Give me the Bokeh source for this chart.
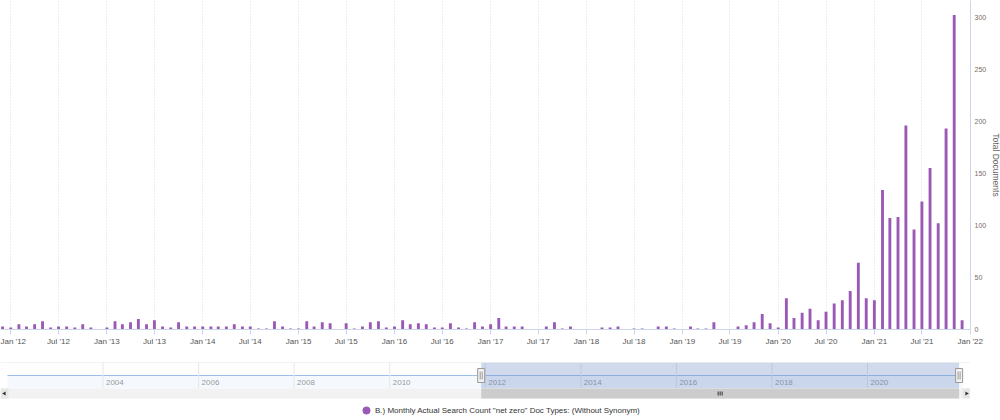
import math
import pandas as pd
from bokeh.plotting import figure
from bokeh.models import (Range1d, DatetimeTickFormatter, MonthsTicker, FixedTicker,
                          Legend, LegendItem)
from bokeh.layouts import column
from bokeh.embed import file_html
from bokeh.resources import INLINE
from bokeh.core.properties import value

# ---------------- data ----------------
start_month = "2011-12-01"
counts_2011 = [3]
counts_2012 = [2, 5, 3, 5, 8, 2, 3, 3, 2, 5, 2, 0]
counts_2013 = [2, 8, 5, 7, 10, 5, 9, 3, 2, 7, 3, 3]
counts_2014 = [3, 3, 3, 3, 5, 3, 3, 1, 1, 8, 3, 1]
counts_2015 = [1, 8, 3, 7, 6, 0, 6, 1, 3, 7, 8, 2]
counts_2016 = [3, 9, 5, 6, 5, 2, 2, 6, 2, 1, 7, 3]
counts_2017 = [5, 11, 3, 3, 3, 0, 0, 3, 7, 1, 3, 0]
counts_2018 = [0, 0, 2, 2, 3, 0, 1, 1, 0, 3, 3, 1]
counts_2019 = [0, 3, 1, 1, 7, 0, 0, 3, 4, 7, 15, 6]
counts_2020 = [2, 30, 11, 16, 20, 9, 17, 25, 28, 37, 64, 30]
counts_2021 = [28, 134, 107, 108, 196, 96, 123, 155, 102, 193, 302, 9]
counts = (counts_2011 + counts_2012 + counts_2013 + counts_2014 + counts_2015 +
          counts_2016 + counts_2017 + counts_2018 + counts_2019 + counts_2020 + counts_2021)
months = pd.date_range(start_month, periods=len(counts), freq="MS")

y_ticks = [0, 50, 100, 150, 200, 250, 300]
y_title = "Total Documents"
series_label = 'B.) Monthly Actual Search Count "net zero" Doc Types: (Without Synonym)'

nav_dates = ["2002-01-01", "2022-01-01"]
nav_label_years = [2004, 2006, 2008, 2010, 2012, 2014, 2016, 2018, 2020]

FONT = "Liberation Sans"
BAR = "#9b59b6"

def ms(t):
    return pd.Timestamp(t).value / 1e6

DAY = 86400000.0
FW = 970

# ---------------- main chart ----------------
x_start = ms(months[0]) - 8 * DAY
x_end = ms("2022-01-02")
p = figure(x_axis_type="datetime", y_axis_location="right",
           frame_width=FW, height=348,
           x_range=Range1d(x_start, x_end), y_range=Range1d(0, 316),
           output_backend="svg", toolbar_location=None,
           min_border_left=0, min_border_top=0, min_border_bottom=0, min_border_right=0)
p.outline_line_color = None
p.vbar(x=months, top=counts, width=11 * DAY, bottom=0,
       fill_color=BAR, line_color=None)

xa = p.xaxis[0]
xa.ticker = MonthsTicker(months=[0, 6])
xa.formatter = DatetimeTickFormatter(months="%b '%y", years="%b '%y", days="%b '%y")
xa.axis_line_color = "#ccd6eb"
xa.major_tick_line_color = "#ccd6eb"
xa.major_tick_out = 5
xa.major_tick_in = 0
xa.minor_tick_line_color = None
xa.major_label_text_font = FONT
xa.major_label_text_font_size = "8px"
xa.major_label_text_color = "#555555"
xa.major_label_standoff = 2

ya = p.yaxis[0]
ya.ticker = FixedTicker(ticks=y_ticks)
ya.axis_line_color = "#ccd6eb"
ya.major_tick_line_color = None
ya.major_tick_out = 0
ya.major_tick_in = 0
ya.minor_tick_line_color = None
ya.minor_tick_out = 0
ya.minor_tick_in = 0
ya.major_label_text_font = FONT
ya.major_label_text_font_size = "7px"
ya.major_label_text_color = "#7a6e64"
ya.major_label_standoff = 4
ya.axis_label = y_title
ya.axis_label_text_font = FONT
ya.axis_label_text_font_size = "8.5px"
ya.axis_label_text_font_style = "normal"
ya.axis_label_text_color = "#666666"
ya.axis_label_standoff = 2

p.xgrid.grid_line_color = "#dcdcdc"
p.xgrid.grid_line_dash = "1 2"
p.ygrid.grid_line_color = None

# ---------------- navigator ----------------
n0, n1 = ms(nav_dates[0]), ms(nav_dates[1])
f0, f1 = 7 / 978, 970.6 / 978
span = (n1 - n0) / (f1 - f0)
nx0 = n0 - f0 * span
nx1 = nx0 + span
px = span / FW  # ms per pixel

pn = figure(x_range=Range1d(nx0, nx1), y_range=Range1d(-22, 36),
            frame_width=FW, height=72,
            x_axis_location=None, y_axis_location=None,
            output_backend="svg", toolbar_location=None,
            min_border_left=0, min_border_top=14, min_border_bottom=0, min_border_right=0)
pn.outline_line_color = None
pn.grid.visible = False

# navigator series
pn.varea(x=[n0, n1], y1=[10, 10], y2=[23, 23], fill_color="#7cb5ec", fill_alpha=0.08)
pn.line(x=[n0, n1], y=[23, 23], line_color="#9dc0ea", line_width=1)
# year grid + labels
yr_x = [ms(f"{y}-01-01") for y in nav_label_years]
pn.segment(x0=yr_x, y0=[10] * len(yr_x), x1=yr_x, y1=[36] * len(yr_x),
           line_color="#e6e6e6", line_width=1)
pn.text(x=yr_x, y=[16] * len(yr_x), text=[str(y) for y in nav_label_years],
        text_font=value(FONT), text_font_size="8px", text_color="#999999",
        text_baseline="middle", text_align="left", x_offset=3)
# top outline
pn.segment(x0=[nx0], y0=[36], x1=[nx1], y1=[36], line_color="#e6e6e6", line_width=1)

# selection mask
sel0, sel1 = ms(months[0]), ms(months[-1])
pn.quad(left=[sel0], right=[sel1], bottom=[10], top=[36],
        fill_color="#6685c2", fill_alpha=0.3, line_color=None)

# scrollbar
pn.quad(left=[nx0], right=[nx1], bottom=[0], top=[10], fill_color="#f2f2f2", line_color=None)
pn.quad(left=[sel0], right=[sel1], bottom=[0], top=[10], fill_color="#cccccc", line_color=None)
pn.quad(left=[nx0, nx1 - 8 * px], right=[nx0 + 8 * px, nx1], bottom=[0, 0], top=[10, 10],
        fill_color="#e6e6e6", line_color=None)
pn.scatter(x=[nx0 + 4 * px, nx1 - 4 * px], y=[5, 5], marker="triangle", size=4,
           angle=[math.pi / 2, -math.pi / 2], fill_color="#333333", line_color=None)
mid = (sel0 + sel1) / 2
pn.segment(x0=[mid - 2 * px, mid, mid + 2 * px], y0=[3, 3, 3],
           x1=[mid - 2 * px, mid, mid + 2 * px], y1=[7, 7, 7], line_color="#333333", line_width=1)

# handles
pn.rect(x=[sel0, sel1], y=[23, 23], width=7, height=14, width_units="screen",
        height_units="screen", fill_color="#f2f2f2", line_color="#999999")
pn.segment(x0=[sel0 - px, sel0 + px, sel1 - px, sel1 + px], y0=[19] * 4,
           x1=[sel0 - px, sel0 + px, sel1 - px, sel1 + px], y1=[27] * 4,
           line_color="#999999", line_width=1)

# legend (marker stand-in placed outside the visible y-range)
lr = pn.scatter(x=[sel0], y=[-1000], marker="circle", size=9, fill_color=BAR, line_color=BAR)
legend = Legend(items=[LegendItem(label=series_label, renderers=[lr])],
                location=(357, 1), orientation="horizontal",
                border_line_color=None, background_fill_alpha=0,
                label_text_font=FONT, label_text_font_size="8px", label_text_color="#333333",
                glyph_width=18, glyph_height=18, label_standoff=-1, label_height=18,
                padding=0, margin=0)
pn.add_layout(legend)

layout = column(p, pn, spacing=0)
open("out.html", "w").write(file_html(layout, INLINE, "chart"))
